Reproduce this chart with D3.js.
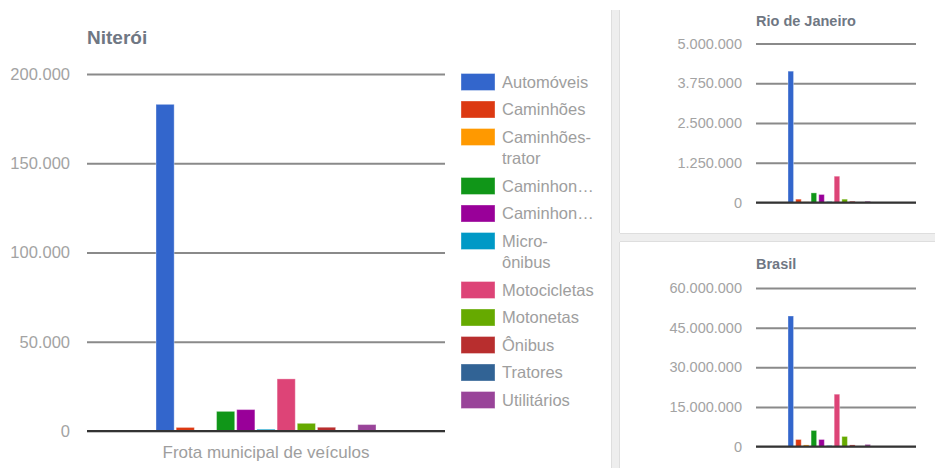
<!DOCTYPE html>
<html>
<head>
<meta charset="utf-8">
<script src="https://cdn.jsdelivr.net/npm/d3@7"></script>
<style>
  body { margin: 0; background: #fff; }
  svg { display: block; font-family: Arial, "Liberation Sans", sans-serif; }
</style>
</head>
<body>
<svg id="chart" width="935" height="468"></svg>
<script>
// frota de veiculos por tipo
var categories = ["Automóveis", "Caminhões", "Caminhões-trator", "Caminhonete", "Caminhoneta",
  "Micro-ônibus", "Motocicletas", "Motonetas", "Ônibus", "Tratores", "Utilitários"];
var legendLabels = [["Automóveis"], ["Caminhões"], ["Caminhões-", "trator"], ["Caminhon…"], ["Caminhon…"],
  ["Micro-", "ônibus"], ["Motocicletas"], ["Motonetas"], ["Ônibus"], ["Tratores"], ["Utilitários"]];
var colors = ["#3366cc", "#dc3912", "#ff9900", "#109618", "#990099", "#0099c6",
  "#dd4477", "#66aa00", "#b82e2e", "#316395", "#994499"];

var niteroi = [183000, 2000, 150, 11000, 12000, 1000, 29200, 4300, 2100, 20, 3600];
var rio = [4130000, 105000, 20000, 302000, 252000, 30000, 827000, 105000, 40000, 2000, 40000];
var brasil = [49400000, 2650000, 600000, 6070000, 2650000, 380000, 19800000, 3800000, 600000, 30000, 800000];

var niteroiTicks = [0, 50000, 100000, 150000, 200000];
var rioTicks = [0, 1250000, 2500000, 3750000, 5000000];
var brasilTicks = [0, 15000000, 30000000, 45000000, 60000000];

var fmt = function(v) { return d3.format(",")(v).replace(/,/g, "."); };

var svg = d3.select("#chart");

// card gutters on the right side
var gut = svg.append("g");
gut.append("rect").attr("x", 611).attr("y", 10).attr("width", 9).attr("height", 458)
  .attr("fill", "#eeeeee");
gut.append("rect").attr("x", 620).attr("y", 233).attr("width", 315).attr("height", 9)
  .attr("fill", "#eeeeee");
gut.append("line").attr("x1", 611.5).attr("x2", 611.5).attr("y1", 10).attr("y2", 468).attr("stroke", "#dedede");
gut.append("line").attr("x1", 619.5).attr("x2", 619.5).attr("y1", 10).attr("y2", 233).attr("stroke", "#dedede");
gut.append("line").attr("x1", 619.5).attr("x2", 619.5).attr("y1", 242).attr("y2", 468).attr("stroke", "#dedede");
gut.append("line").attr("x1", 620).attr("x2", 935).attr("y1", 233.5).attr("y2", 233.5).attr("stroke", "#dedede");
gut.append("line").attr("x1", 620).attr("x2", 935).attr("y1", 241.5).attr("y2", 241.5).attr("stroke", "#dedede");

function drawChart(opt) {
  var g = svg.append("g");
  var y = d3.scaleLinear().domain([0, opt.ticks[opt.ticks.length - 1]]).range([opt.y0, opt.y1]);
  var x = d3.scaleBand().domain(categories).range([opt.gx0, opt.gx1]).paddingInner(opt.pad);

  g.append("text").attr("x", opt.x0).attr("y", opt.titleY)
    .attr("font-size", opt.titleSize).attr("font-weight", "bold").attr("fill", "#6f7783")
    .text(opt.title);

  var axis = d3.axisLeft(y).tickValues(opt.ticks).tickFormat(fmt).tickSize(-(opt.x1 - opt.x0)).tickPadding(opt.pad2);
  var ax = g.append("g").attr("transform", "translate(" + opt.x0 + ",0)").call(axis);
  ax.select(".domain").remove();
  ax.selectAll("line").attr("stroke", "#8a8a8a").attr("stroke-width", 2);
  ax.selectAll("text").attr("font-size", opt.tickSize).attr("fill", "#a3a3a3")
    .attr("font-family", "Arial, 'Liberation Sans', sans-serif");

  g.selectAll("rect.bar").data(opt.values).enter().append("rect")
    .attr("class", "bar")
    .attr("x", function(d, i) { return x(categories[i]); })
    .attr("width", x.bandwidth())
    .attr("y", function(d) { return y(d); })
    .attr("height", function(d) { return opt.y0 - y(d); })
    .attr("fill", function(d, i) { return colors[i]; })
    .attr("stroke", "rgba(255,255,255,0.35)").attr("stroke-width", 1);

  g.append("line").attr("x1", opt.x0).attr("x2", opt.x1).attr("y1", opt.y0).attr("y2", opt.y0)
    .attr("stroke", "#333").attr("stroke-width", 2);
  return g;
}

drawChart({ title: "Niterói", values: niteroi, ticks: niteroiTicks,
  x0: 87, x1: 445, y0: 431, y1: 74, gx0: 156, gx1: 376, pad: 0.1, pad2: 17,
  titleY: 44, titleSize: 19, tickSize: 16.5 });

svg.append("text").attr("x", 266).attr("y", 458).attr("text-anchor", "middle")
  .attr("font-size", 17).attr("fill", "#9e9e9e").text("Frota municipal de veículos");

drawChart({ title: "Rio de Janeiro", values: rio, ticks: rioTicks,
  x0: 756, x1: 916, y0: 202.5, y1: 43.5, gx0: 788, gx1: 870.5, pad: 0.28, pad2: 14,
  titleY: 26, titleSize: 14.5, tickSize: 14.5 });

drawChart({ title: "Brasil", values: brasil, ticks: brasilTicks,
  x0: 756, x1: 916, y0: 446.5, y1: 288, gx0: 788, gx1: 870.5, pad: 0.28, pad2: 14,
  titleY: 269, titleSize: 14.5, tickSize: 14.5 });

// legenda
var legend = svg.append("g").attr("transform", "translate(461,0)");
var ly = 82;
legendLabels.forEach(function(lines, i) {
  var item = legend.append("g");
  item.append("rect").attr("x", 0).attr("y", ly - 8.5).attr("width", 34).attr("height", 17)
    .attr("fill", colors[i]).attr("stroke", "rgba(255,255,255,0.35)");
  lines.forEach(function(t, j) {
    item.append("text").attr("x", 41).attr("y", ly + j * 21.5).attr("dy", "0.35em")
      .attr("font-size", 16.5).attr("fill", "#9e9e9e").text(t);
  });
  ly += 27.5 + (lines.length - 1) * 21.5;
});
</script>
</body>
</html>
